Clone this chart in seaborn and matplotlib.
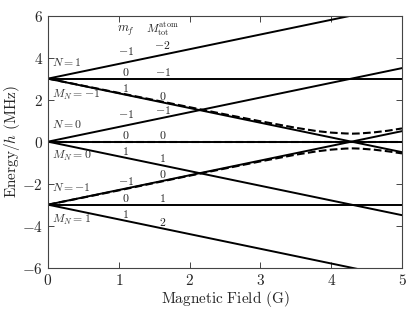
import matplotlib
matplotlib.use("Agg")
import matplotlib.pyplot as plt
import seaborn as sns
import pandas as pd
from matplotlib.ticker import FuncFormatter

# Данные: прямые уровни (энергия при B=0 и при B=5)
field_ends = [0.0, 5.0]
level_start = [3, 3, 3, 0, 0, 0, -3, -3, -3]
level_end = [6.5, 3.0, -0.5, 3.5, 0.0, -3.5, 0.5, -3.0, -6.5]

# Пунктир: антипересечение
dash_field = [0.0, 0.5, 1.0, 1.5, 2.0, 2.5, 3.0, 3.5, 3.8, 4.0, 4.2, 4.3, 4.4, 4.6, 4.8, 5.0]
dash_upper = [3.0, 2.66, 2.32, 1.98, 1.64, 1.30, 0.97, 0.66, 0.50, 0.43, 0.39, 0.38, 0.39, 0.44, 0.52, 0.63]
dash_lower = [-3.0, -2.66, -2.32, -1.97, -1.62, -1.28, -0.94, -0.62, -0.46, -0.38, -0.33, -0.32, -0.33, -0.38, -0.46, -0.56]
dash_middle = [0.0] * len(dash_field)

# Подписи m_f и M_tot
mf_labels = ['-1', '0', '1', '-1', '0', '1', '-1', '0', '1']
mf_y = [4.28, 3.3, 2.53, 1.27, 0.27, -0.49, -1.9, -2.73, -3.45]
mtot_labels = ['-2', '-1', '0', '-1', '0', '1', '0', '1', '2']
mtot_y = [4.6, 3.3, 2.16, 1.46, 0.27, -0.79, -1.57, -2.73, -3.84]
state_labels = [r'$N=1$', r'$M_N=-1$', r'$N=0$', r'$M_N=0$', r'$N=-1$', r'$M_N=1$']
state_y = [3.77, 2.2, 0.82, -0.7, -2.2, -3.75]

sns.set_style("ticks")
plt.rcParams.update({
    'mathtext.fontset': 'cm',
    'font.family': ['DejaVu Serif'],
    'axes.linewidth': 0.8,
})

solid = pd.DataFrame({
    'B': field_ends * len(level_start),
    'E': [v for s, e in zip(level_start, level_end) for v in (s, e)],
    'line': [i for i in range(len(level_start)) for _ in field_ends],
})
dashed = pd.DataFrame({
    'B': dash_field * 3,
    'E': dash_upper + dash_lower + dash_middle,
    'line': [i for i in range(3) for _ in dash_field],
})

fig = plt.figure(figsize=(4.15, 3.12), dpi=100)
ax = fig.add_axes([0.1157, 0.142, 0.853, 0.808])

sns.lineplot(data=dashed, x='B', y='E', units='line', estimator=None,
             color='black', lw=1.5, ls='--', ax=ax, legend=False)
sns.lineplot(data=solid, x='B', y='E', units='line', estimator=None,
             color='black', lw=1.4, ax=ax, legend=False)

ax.set_xlim(0, 5)
ax.set_ylim(-6, 6)
ax.set_xticks(range(0, 6))
ax.set_yticks(range(-6, 7, 2))
fmt = FuncFormatter(lambda v, p: r'$%d$' % v)
ax.xaxis.set_major_formatter(fmt)
ax.yaxis.set_major_formatter(fmt)
ax.tick_params(direction='in', top=True, right=True, labelsize=11, length=4, width=0.6)
for s in ax.spines.values():
    s.set_color('#444444')

ax.set_xlabel(r'$\mathrm{Magnetic\ Field\ (G)}$', fontsize=11, labelpad=1)
ax.set_ylabel(r'$\mathrm{Energy}/h\ \mathrm{(MHz)}$', fontsize=11, labelpad=0)

# Заголовки колонок
ax.text(1.1, 5.28, r'$m_f$', ha='center', va='center', fontsize=9, color='#222222')
ax.text(1.62, 5.35, r'$M_{\rm tot}^{\rm atom}$', ha='center', va='center', fontsize=8.5, color='#222222')

for lab, y in zip(mf_labels, mf_y):
    ax.text(1.1, y, r'$%s$' % lab, ha='center', va='center', fontsize=8.5, color='#222222')
for lab, y in zip(mtot_labels, mtot_y):
    ax.text(1.62, y, r'$%s$' % lab, ha='center', va='center', fontsize=8.5, color='#222222')
for lab, y in zip(state_labels, state_y):
    ax.text(0.05, y, lab, ha='left', va='center', fontsize=8.5, color='#333333')

fig.savefig('out.png', dpi=100)
